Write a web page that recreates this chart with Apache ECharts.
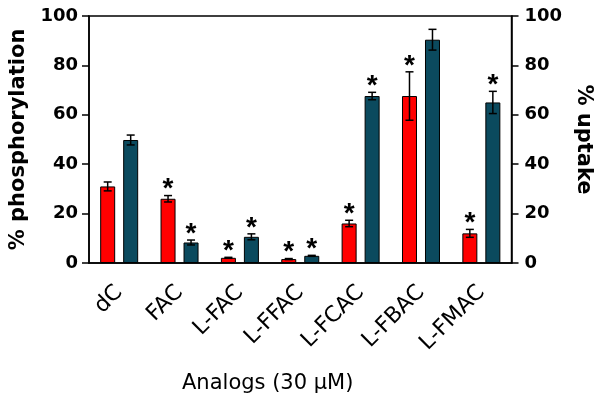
<!DOCTYPE html>
<html>
<head>
<meta charset="utf-8">
<script src="https://cdn.jsdelivr.net/npm/echarts@6/dist/echarts.min.js"></script>
<style>
  html, body { margin: 0; padding: 0; background: #fff; }
  #chart { width: 602px; height: 404px; }
</style>
</head>
<body>
<div id="chart"></div>
<script>
const categories = ['dC', 'FAC', 'L-FAC', 'L-FFAC', 'L-FCAC', 'L-FBAC', 'L-FMAC'];
const phosphorylation = [31, 26, 2.1, 1.6, 16, 67.6, 12];
const phosphorylationErr = [1.8, 1.3, 0.2, 0.2, 1.3, 9.8, 1.6];
const phosphorylationSig = [0, 1, 1, 1, 1, 1, 1];
const uptake = [49.8, 8.3, 10.6, 2.9, 67.6, 90.4, 65];
const uptakeErr = [2, 1, 1.2, 0.2, 1.5, 4.2, 4.5];
const uptakeSig = [0, 1, 1, 1, 1, 0, 1];
const yTicks = [0, 20, 40, 60, 80, 100];

const FONT = '"DejaVu Sans", sans-serif';
const STAR_FONT = 'bold 28px "Liberation Sans", Arial, sans-serif';
const BAR_W = 15;
const BAR_GAP = 8;
const RED = '#ff0000';
const TEAL = '#0b4a5e';

const chart = echarts.init(document.getElementById('chart'));

// error bars + significance stars, offset to sit on each bar of the pair
function errorSeries(values, errs, sigs, side, axisIndex) {
  return {
    type: 'custom',
    yAxisIndex: axisIndex,
    z: 5,
    encode: { x: 0, y: 1 },
    data: values.map((v, i) => [i, v, errs[i], sigs[i]]),
    renderItem: (params, api) => {
      const i = api.value(0);
      const v = api.value(1);
      const e = api.value(2);
      const x = api.coord([i, v])[0] + side * (BAR_W + BAR_GAP) / 2;
      const yTop = api.coord([i, v + e])[1];
      const yBot = api.coord([i, Math.max(v - e, 0)])[1];
      const line = { stroke: '#000', lineWidth: 1.5 };
      const children = [
        { type: 'line', shape: { x1: x, y1: yTop, x2: x, y2: yBot }, style: line },
        { type: 'line', shape: { x1: x - 4, y1: yTop, x2: x + 4, y2: yTop }, style: line },
        { type: 'line', shape: { x1: x - 4, y1: yBot, x2: x + 4, y2: yBot }, style: line }
      ];
      if (api.value(3)) {
        children.push({
          type: 'text',
          style: {
            text: '*',
            x: x,
            y: yTop - 6,
            align: 'center',
            verticalAlign: 'middle',
            font: STAR_FONT,
            fill: '#000'
          }
        });
      }
      return { type: 'group', children };
    }
  };
}

const valueAxis = (position, name) => ({
  type: 'value',
  position,
  min: yTicks[0],
  max: yTicks[yTicks.length - 1],
  interval: yTicks[1] - yTicks[0],
  name,
  nameLocation: 'middle',
  nameGap: 60,
  nameRotate: position === 'right' ? -90 : 90,
  nameTextStyle: { fontSize: 21, fontWeight: 'bold', color: '#000', fontFamily: FONT },
  axisLine: { show: true, lineStyle: { color: '#000', width: 1.5 } },
  axisTick: { show: true, length: 7, lineStyle: { color: '#000', width: 1.5 } },
  axisLabel: {
    color: '#000',
    fontSize: 18,
    fontWeight: 'bold',
    fontFamily: FONT,
    margin: position === 'right' ? 13 : 11
  },
  splitLine: { show: false }
});

chart.setOption({
  animation: false,
  backgroundColor: '#fff',
  title: {
    text: 'Analogs (30 µM)',
    left: 182,
    top: 373,
    padding: 0,
    textStyle: { fontSize: 21, fontWeight: 'normal', color: '#000', fontFamily: FONT }
  },
  grid: {
    left: 88,
    right: 90,
    top: 16,
    bottom: 141,
    show: true,
    borderColor: '#000',
    borderWidth: 1.5
  },
  xAxis: {
    type: 'category',
    data: categories,
    axisLine: { lineStyle: { color: '#000', width: 1.5 } },
    axisTick: { alignWithLabel: true, length: 6, lineStyle: { color: '#000', width: 1.5 } },
    axisLabel: { rotate: 45, fontSize: 22, color: '#000', fontFamily: FONT, margin: 26 }
  },
  yAxis: [valueAxis('left', '% phosphorylation'), valueAxis('right', '% uptake')],
  series: [
    {
      name: '% phosphorylation',
      type: 'bar',
      yAxisIndex: 0,
      barWidth: BAR_W,
      barGap: (BAR_GAP / BAR_W * 100) + '%',
      itemStyle: { color: RED, borderColor: '#000', borderWidth: 1 },
      data: phosphorylation
    },
    {
      name: '% uptake',
      type: 'bar',
      yAxisIndex: 1,
      barWidth: BAR_W,
      barGap: (BAR_GAP / BAR_W * 100) + '%',
      itemStyle: { color: TEAL, borderColor: '#000', borderWidth: 1 },
      data: uptake
    },
    errorSeries(phosphorylation, phosphorylationErr, phosphorylationSig, -1, 0),
    errorSeries(uptake, uptakeErr, uptakeSig, 1, 1)
  ]
});
</script>
</body>
</html>
